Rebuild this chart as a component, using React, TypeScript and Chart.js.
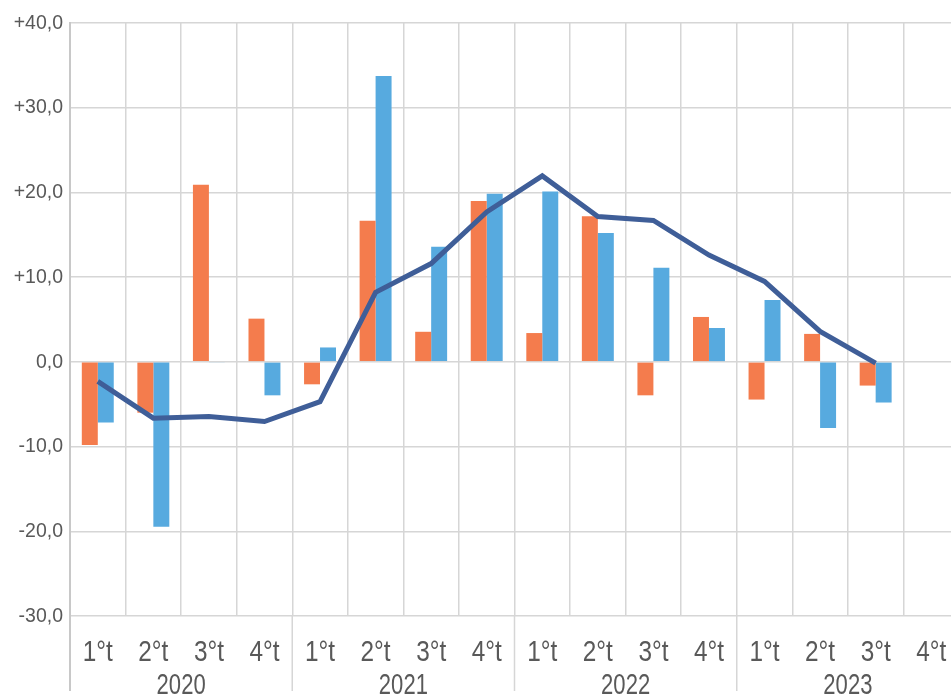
import React, { useEffect, useRef } from "react";
import { Chart, registerables } from "chart.js";

Chart.register(...registerables);

const quarters = [
  "1°t", "2°t", "3°t", "4°t",
  "1°t", "2°t", "3°t", "4°t",
  "1°t", "2°t", "3°t", "4°t",
  "1°t", "2°t", "3°t", "4°t",
];
const years = ["2020", "2021", "2022", "2023"];

const orangeValues = [
  -9.8, -6.0, 20.9, 5.1,
  -2.65, 16.65, 3.55, 19.0,
  3.4, 17.2, -3.95, 5.3,
  -4.45, 3.3, -2.8, null,
];
const blueValues = [
  -7.15, -19.45, -0.1, -3.95,
  1.7, 33.75, 13.6, 19.85,
  20.1, 15.2, 11.1, 4.0,
  7.3, -7.8, -4.8, null,
];
const lineValues = [
  -2.3, -6.65, -6.45, -7.05,
  -4.7, 8.2, 11.6, 17.7,
  21.95, 17.15, 16.7, 12.6,
  9.5, 3.6, -0.15, null,
];

const yMin = -30;
const yMax = 40;
const yStep = 10;

const FONT = "'Liberation Sans', Arial, sans-serif";
const TEXT = "#595959";
const GRID = "#d6d6d6";

function fmt(v: number): string {
  const s = Math.abs(v).toFixed(1).replace(".", ",");
  if (v > 0) return "+" + s;
  if (v < 0) return "-" + s;
  return s;
}

function narrowText(ctx: any, text: string, x: number, y: number, align: string, squeeze: number) {
  ctx.save();
  ctx.translate(x, y);
  ctx.scale(squeeze, 1);
  ctx.textAlign = align;
  ctx.fillText(text, 0, 0);
  ctx.restore();
}

const labelPlugin = {
  id: "labelPlugin",
  afterDraw(chart: any) {
    const x = chart.scales.x;
    const y = chart.scales.y;
    const area = chart.chartArea;
    const ctx = chart.ctx;
    ctx.save();
    // year separators
    ctx.strokeStyle = GRID;
    ctx.lineWidth = 1.5;
    for (let g = 1; g < years.length; g++) {
      const i = g * 4;
      const bx = (x.getPixelForValue(i - 1) + x.getPixelForValue(i)) / 2;
      ctx.beginPath();
      ctx.moveTo(bx, area.bottom);
      ctx.lineTo(bx, 691);
      ctx.stroke();
    }
    ctx.strokeStyle = "#c8c8c8";
    ctx.lineWidth = 2;
    ctx.beginPath();
    ctx.moveTo(area.left, area.bottom);
    ctx.lineTo(area.left, 691);
    ctx.stroke();

    ctx.fillStyle = TEXT;
    ctx.textBaseline = "middle";
    // y labels
    ctx.font = "20.5px " + FONT;
    for (let v = yMin; v <= yMax; v += yStep) {
      narrowText(ctx, fmt(v), area.left - 7, y.getPixelForValue(v), "right", 0.95);
    }
    ctx.textBaseline = "alphabetic";
    ctx.font = "29px " + FONT;
    // quarter labels
    quarters.forEach((q, i) => {
      narrowText(ctx, q, x.getPixelForValue(i), 661, "center", 0.84);
    });
    // year labels
    years.forEach((yr, g) => {
      const cx = (x.getPixelForValue(g * 4 + 1) + x.getPixelForValue(g * 4 + 2)) / 2;
      narrowText(ctx, yr, cx, 694, "center", 0.76);
    });
    ctx.restore();
  },
};

export default function App() {
  const ref = useRef<HTMLCanvasElement>(null);
  useEffect(() => {
    if (!ref.current) return;
    const chart = new Chart(ref.current, {
      type: "bar",
      data: {
        labels: quarters,
        datasets: [
          {
            type: "line",
            data: lineValues,
            borderColor: "#3f5e98",
            borderWidth: 5,
            pointRadius: 0,
            fill: false,
            tension: 0,
            order: 0,
          } as any,
          {
            type: "bar",
            data: orangeValues,
            backgroundColor: "#f47c4d",
            categoryPercentage: 0.575,
            barPercentage: 1,
            order: 1,
          },
          {
            type: "bar",
            data: blueValues,
            backgroundColor: "#57aadf",
            categoryPercentage: 0.575,
            barPercentage: 1,
            order: 1,
          },
        ],
      },
      options: {
        responsive: false,
        maintainAspectRatio: false,
        animation: false,
        layout: { padding: { top: 23, right: 1, bottom: 0, left: 0 } },
        plugins: {
          legend: { display: false },
          tooltip: { enabled: false },
        },
        scales: {
          x: {
            offset: true,
            grid: {
              offset: true,
              color: GRID,
              lineWidth: 1.5,
              drawTicks: false,
            },
            border: { display: false },
            ticks: { display: false, autoSkip: false },
            afterFit(scale: any) {
              scale.height = 80;
            },
          },
          y: {
            min: yMin,
            max: yMax,
            ticks: { stepSize: yStep, display: false },
            grid: { color: GRID, lineWidth: 1.5, drawTicks: false },
            border: { display: true, color: "#c8c8c8", width: 2 },
            afterFit(scale: any) {
              scale.width = 70;
            },
          },
        },
      },
      plugins: [labelPlugin],
    });
    return () => chart.destroy();
  }, []);
  return (
    <div
      style={{
        position: "fixed",
        left: 0,
        top: 0,
        width: 951,
        height: 696,
        overflow: "hidden",
        background: "#fff",
      }}
    >
      <div style={{ width: 960, height: 696 }}>
        <canvas
          ref={ref}
          width={960}
          height={696}
          style={{ display: "block", width: 960, height: 696 }}
        />
      </div>
    </div>
  );
}
